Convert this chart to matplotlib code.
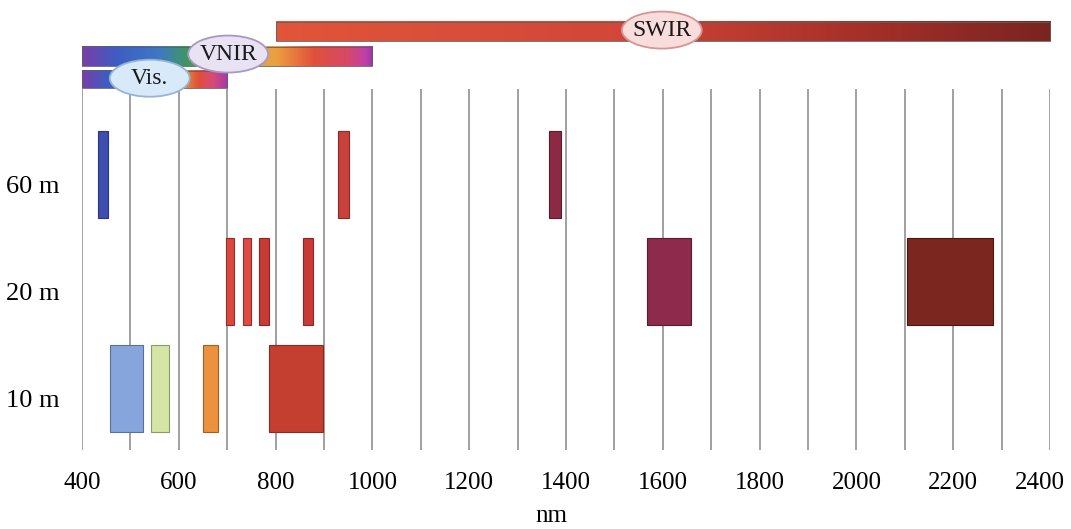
import numpy as np
import matplotlib
matplotlib.use("Agg")
import matplotlib.pyplot as plt
from matplotlib.colors import LinearSegmentedColormap
from matplotlib.patches import Ellipse
from matplotlib.transforms import ScaledTranslation

plt.rcParams['font.family'] = ['Liberation Serif', 'DejaVu Serif']

# band edges (nm), resolution level (0=10 m, 1=20 m, 2=60 m), colours
band_lo = [433, 458, 543, 650, 698, 733, 766, 786, 857, 929, 1365, 1567, 2105]
band_hi = [454, 526, 580, 681, 714, 749, 786, 898, 877, 952, 1390, 1658, 2282]
band_level = [2, 0, 0, 0, 1, 1, 1, 0, 1, 2, 2, 1, 1]
band_color = ['#3d4db0', '#86a5dc', '#d5e5a5', '#ec9140', '#d9473f', '#df4a45',
              '#c83b35', '#c43f30', '#c93a36', '#c8413a', '#8c2a45', '#8e2a4c',
              '#7b2720']
band_edge = ['#2a3580', '#5a6f9a', '#8a9a6a', '#a06020', '#9a2a25', '#9a2a28',
             '#8a2520', '#8a2a20', '#8a2520', '#8a2a25', '#5a1a2a', '#5a1a30',
             '#4a1510']

res_levels = [0, 1, 2]
res_labels = ['10 m', '20 m', '60 m']
xticks = list(range(400, 2401, 100))

# spectral ranges at top
ranges = ['Vis.', 'VNIR', 'SWIR']
range_lo = [400, 400, 800]
range_hi = [700, 1000, 2400]
range_y = [2.81, 3.01, 3.25]
range_h = [0.16, 0.18, 0.18]
label_x = [540, 702, 1598]
label_y = [2.90, 3.126, 3.35]
label_face = ['#d8e9f9', '#e8e2f3', '#f9dcdc']
label_edge = ['#98b4d4', '#a898c4', '#d89494']

# gradient stops (nm, colour)
vis_stops = [(400, '#7a3ea8'), (450, '#3e5cc2'), (500, '#3f78c4'), (560, '#6aa86a'),
             (600, '#e8a040'), (640, '#e0503a'), (670, '#d84a7a'), (700, '#a03aa8')]
vnir_stops = [(400, '#7a3ea8'), (470, '#3e5cc2'), (560, '#3f78c4'), (620, '#3e9a5a'),
              (720, '#c0b060'), (800, '#eca040'), (880, '#e0503a'), (950, '#d8486a'),
              (985, '#c040a8'), (1000, '#9a3aa8')]
swir_stops = [(800, '#e25538'), (1500, '#d34638'), (2000, '#a83028'), (2400, '#7a2420')]
stops = [vis_stops, vnir_stops, swir_stops]

fig = plt.figure(figsize=(10.71, 5.29), dpi=100)
ax = fig.add_axes([82 / 1071, 1 - 450 / 529, 968 / 1071, 438 / 529])

ax.vlines(xticks, -0.575, 2.80, colors='#a0a0a0', linewidth=1.4, zorder=1)

for lo, hi, lev, c, e in zip(band_lo, band_hi, band_level, band_color, band_edge):
    ax.barh(lev, hi - lo, left=lo, height=0.82, color=c, edgecolor=e,
            linewidth=0.8, zorder=2)

for i in range(len(ranges)):
    st = stops[i]
    lo, hi = range_lo[i], range_hi[i]
    cmap = LinearSegmentedColormap.from_list(
        ranges[i], [((s[0] - lo) / (hi - lo), s[1]) for s in st])
    grad = np.linspace(0, 1, 256).reshape(1, -1)
    ax.imshow(grad, cmap=cmap, aspect='auto', interpolation='bilinear',
              extent=(lo, hi, range_y[i], range_y[i] + range_h[i]),
              zorder=3 + i, clip_on=False)
    ax.add_patch(plt.Rectangle((lo, range_y[i]), hi - lo, range_h[i],
                               fill=False, edgecolor='#606060', linewidth=0.6,
                               zorder=3 + i, clip_on=False))

for i in range(len(ranges)):
    ax.add_patch(Ellipse((label_x[i], label_y[i]), 165, 0.346,
                         facecolor=label_face[i], edgecolor=label_edge[i],
                         linewidth=1.3, zorder=10, clip_on=False))
    ax.text(label_x[i], label_y[i], ranges[i], ha='center', va='center',
            fontsize=17, color='#1a1a1a', zorder=11)

ax.set_xlim(400, 2400)
ax.set_ylim(-0.575, 3.519)
ax.set_xticks(xticks)
ax.set_xticklabels([str(v) if v % 200 == 0 else '' for v in xticks], fontsize=18)
ax.tick_params(axis='x', length=0, pad=16)
# last label sits a little left so it stays inside the figure
last = ax.get_xticklabels()[-1]
last.set_transform(last.get_transform() + ScaledTranslation(-0.1, 0, fig.dpi_scale_trans))
ax.set_yticks(res_levels)
ax.set_yticklabels(res_labels, fontsize=19)
ax.tick_params(axis='y', length=0, pad=16)
off = ScaledTranslation(0, -10 / 100, fig.dpi_scale_trans)
for lab in ax.get_yticklabels():
    lab.set_transform(lab.get_transform() + off)
ax.set_xlabel('nm', fontsize=18)
ax.xaxis.set_label_coords(0.485, -0.125)

for s in ax.spines.values():
    s.set_visible(False)

fig.savefig('out.png', dpi=100)
